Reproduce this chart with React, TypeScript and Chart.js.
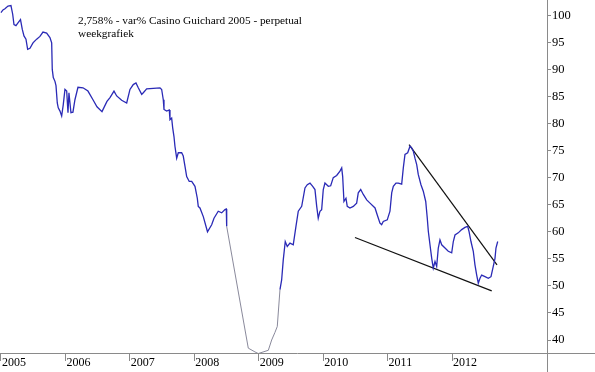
import React, { useEffect, useRef } from "react";
import { Chart, registerables } from "chart.js";

Chart.register(...registerables);

// Weekly closes (decimal year) and values (var% Casino Guichard 2005 perpetual)
const dates = [
  2005.0, 2005.031, 2005.062, 2005.109, 2005.155, 2005.182, 2005.202, 2005.233, 2005.264, 2005.303,
  2005.331, 2005.357, 2005.388, 2005.414, 2005.45, 2005.497, 2005.554, 2005.605, 2005.652, 2005.709,
  2005.76, 2005.787, 2005.796, 2005.812, 2005.838, 2005.854, 2005.874, 2005.889, 2005.916, 2005.942,
  2005.967, 2005.993, 2006.02, 2006.04, 2006.055, 2006.086, 2006.117, 2006.148, 2006.195, 2006.273,
  2006.35, 2006.428, 2006.49, 2006.568, 2006.645, 2006.692, 2006.754, 2006.796, 2006.873, 2006.951,
  2007.002, 2007.053, 2007.095, 2007.131, 2007.184, 2007.209, 2007.261, 2007.364, 2007.468, 2007.494,
  2007.519, 2007.53, 2007.572, 2007.612, 2007.623, 2007.649, 2007.665, 2007.685, 2007.7, 2007.727,
  2007.752, 2007.804, 2007.829, 2007.856, 2007.882, 2007.922, 2007.96, 2008.011, 2008.047, 2008.062,
  2008.088, 2008.14, 2008.205, 2008.27, 2008.306, 2008.372, 2008.425, 2008.476, 2008.497, 2008.503,
  2008.838, 2008.942, 2008.993, 2009.149, 2009.201, 2009.252, 2009.288, 2009.33, 2009.356, 2009.381,
  2009.412, 2009.443, 2009.485, 2009.536, 2009.578, 2009.614, 2009.667, 2009.718, 2009.754, 2009.796,
  2009.838, 2009.873, 2009.9, 2009.924, 2009.951, 2009.977, 2010.002, 2010.028, 2010.08, 2010.117,
  2010.157, 2010.21, 2010.261, 2010.288, 2010.303, 2010.323, 2010.354, 2010.374, 2010.416, 2010.468,
  2010.52, 2010.545, 2010.583, 2010.623, 2010.676, 2010.727, 2010.805, 2010.84, 2010.882, 2010.908,
  2010.933, 2010.995, 2011.037, 2011.064, 2011.089, 2011.13, 2011.166, 2011.219, 2011.244, 2011.27,
  2011.312, 2011.348, 2011.374, 2011.399, 2011.425, 2011.452, 2011.476, 2011.518, 2011.554, 2011.592,
  2011.616, 2011.632, 2011.658, 2011.685, 2011.709, 2011.736, 2011.762, 2011.787, 2011.813, 2011.84,
  2011.891, 2011.942, 2011.995, 2012.02, 2012.046, 2012.097, 2012.15, 2012.201, 2012.243, 2012.263,
  2012.294, 2012.33, 2012.356, 2012.383, 2012.408, 2012.434, 2012.46, 2012.512, 2012.563, 2012.605,
  2012.64, 2012.667, 2012.682, 2012.709,
];

const values = [
  100.5, 101.0, 101.2, 101.7, 101.8, 100.2, 98.3, 98.1, 98.6, 99.2,
  97.4, 96.2, 95.6, 93.7, 93.9, 94.9, 95.6, 96.1, 96.9, 96.7,
  95.9, 94.9, 90.0, 88.5, 87.8, 87.0, 83.8, 82.9, 82.3, 81.4,
  83.5, 86.3, 86.0, 82.0, 85.7, 82.0, 82.1, 84.4, 86.7, 86.6,
  86.0, 84.4, 83.1, 82.2, 84.1, 84.8, 86.0, 85.1, 84.3, 83.8,
  86.3, 87.2, 87.5, 86.6, 85.4, 85.7, 86.4, 86.5, 86.6, 86.3,
  84.4, 82.6, 82.3, 82.5, 80.7, 81.0, 79.2, 77.6, 75.8, 73.6,
  74.6, 74.6, 74.0, 72.1, 70.2, 69.3, 69.3, 68.4, 66.2, 64.7,
  64.4, 62.8, 60.0, 61.3, 62.5, 63.8, 63.5, 64.1, 64.2, 61.0,
  38.5, 37.8, 37.5, 38.1, 40.0, 41.4, 42.5, 49.3, 51.1, 54.8,
  58.2, 57.3, 57.9, 57.6, 61.0, 63.8, 64.7, 68.1, 68.7, 69.0,
  68.4, 67.8, 64.7, 62.5, 63.8, 64.1, 67.8, 69.0, 68.4, 68.5,
  70.0, 70.4, 71.2, 71.8, 70.2, 65.6, 66.2, 64.7, 64.4, 64.7,
  65.3, 67.2, 67.8, 66.9, 65.9, 65.3, 64.4, 63.1, 61.6, 61.3,
  61.9, 62.2, 63.8, 67.2, 68.4, 69.0, 69.0, 68.8, 71.8, 74.3,
  74.6, 75.8, 75.5, 74.9, 73.6, 72.4, 70.6, 68.7, 67.5, 65.6,
  62.5, 60.1, 57.6, 55.1, 53.3, 54.5, 53.6, 57.0, 58.5, 57.6,
  57.0, 56.4, 56.1, 58.2, 59.4, 59.8, 60.4, 60.8, 61.0, 60.1,
  58.2, 56.4, 53.9, 52.0, 50.5, 51.4, 52.0, 51.7, 51.4, 51.7,
  53.6, 55.1, 57.0, 58.2,
];

// Hand-drawn trend lines
const upperTrendX = [2011.333, 2012.698];
const upperTrendY = [76.1, 53.9];
const lowerTrendX = [2010.494, 2012.616];
const lowerTrendY = [58.94, 49.07];

// Thin (sparse data) stretch around the 2008/2009 crash
const thinFrom = 2008.5;
const thinTo = 2009.34;

const xTicks = [2005, 2006, 2007, 2008, 2009, 2010, 2011, 2012];
const yTicks = [40, 45, 50, 55, 60, 65, 70, 75, 80, 85, 90, 95, 100];

const titleLines = ["2,758% - var% Casino Guichard 2005 - perpetual", "weekgrafiek"];

const SERIF = '"Liberation Serif", "Times New Roman", serif';
const AXIS_GREY = "#8a8a8a";
const LINE_BLUE = "#2a2ab6";

export default function App() {
  const canvasRef = useRef<HTMLCanvasElement | null>(null);

  useEffect(() => {
    document.body.style.margin = "0";
    const canvas = canvasRef.current;
    if (!canvas) return;

    const overlay = {
      id: "overlay",
      afterDraw(chart: any) {
        const { ctx, chartArea } = chart;
        ctx.save();
        // extended axis lines
        ctx.strokeStyle = AXIS_GREY;
        ctx.lineWidth = 1;
        ctx.beginPath();
        ctx.moveTo(0, Math.round(chartArea.bottom) + 0.5);
        ctx.lineTo(chart.width, Math.round(chartArea.bottom) + 0.5);
        ctx.moveTo(Math.round(chartArea.right) + 0.5, 0);
        ctx.lineTo(Math.round(chartArea.right) + 0.5, chart.height);
        ctx.stroke();
        // title text
        ctx.fillStyle = "#000";
        ctx.font = `11.3px ${SERIF}`;
        ctx.textBaseline = "alphabetic";
        ctx.textAlign = "left";
        ctx.fillText(titleLines[0], 78, 24);
        ctx.fillText(titleLines[1], 78, 37);
        ctx.restore();
      },
    };

    const chart = new Chart(canvas, {
      type: "line",
      data: {
        datasets: [
          {
            data: dates.map((d, i) => ({ x: d, y: values[i] })),
            borderColor: LINE_BLUE,
            borderWidth: 1.3,
            pointRadius: 0,
            tension: 0,
            segment: {
              borderColor: (c: any) =>
                c.p0.parsed.x >= thinFrom && c.p1.parsed.x <= thinTo ? "#7c7c90" : LINE_BLUE,
              borderWidth: (c: any) =>
                c.p0.parsed.x >= thinFrom && c.p1.parsed.x <= thinTo ? 0.9 : 1.3,
            },
          },
          {
            data: upperTrendX.map((d, i) => ({ x: d, y: upperTrendY[i] })),
            borderColor: "#111",
            borderWidth: 1.2,
            pointRadius: 0,
          },
          {
            data: lowerTrendX.map((d, i) => ({ x: d, y: lowerTrendY[i] })),
            borderColor: "#111",
            borderWidth: 1.2,
            pointRadius: 0,
          },
        ],
      },
      options: {
        animation: false,
        responsive: false,
        maintainAspectRatio: false,
        layout: { padding: 0, autoPadding: false } as any,
        plugins: { legend: { display: false }, tooltip: { enabled: false }, title: { display: false } },
        scales: {
          x: {
            type: "linear",
            min: 2004.985,
            max: 2013.474,
            afterBuildTicks: (s: any) => {
              s.ticks = xTicks.map((v) => ({ value: v }));
            },
            afterFit: (s: any) => {
              s.height = 19;
              s.paddingLeft = 0;
              s.paddingRight = 0;
            },
            border: { display: false },
            grid: { drawOnChartArea: false, drawTicks: true, tickLength: 8, color: AXIS_GREY, lineWidth: 1 },
            ticks: {
              align: "start",
              labelOffset: 1,
              padding: -5,
              maxRotation: 0,
              autoSkip: false,
              color: "#000",
              font: { family: SERIF, size: 12 },
              callback: (v: any) => String(v),
            },
          },
          y: {
            type: "linear",
            position: "right",
            min: 37.6,
            max: 102.83,
            afterBuildTicks: (s: any) => {
              s.ticks = yTicks.map((v) => ({ value: v }));
            },
            afterFit: (s: any) => {
              s.width = 48;
              s.paddingTop = 0;
              s.paddingBottom = 0;
            },
            border: { display: false },
            grid: { drawOnChartArea: false, drawTicks: true, tickLength: 4, color: AXIS_GREY, lineWidth: 1 },
            ticks: {
              padding: 1,
              color: "#000",
              font: { family: SERIF, size: 12.5 },
              callback: (v: any) => String(v),
            },
          },
        },
      } as any,
      plugins: [overlay],
    });

    return () => chart.destroy();
  }, []);

  return (
    <div style={{ width: 595, height: 372, background: "#fff" }}>
      <canvas ref={canvasRef} width={595} height={372} style={{ display: "block", width: 595, height: 372 }} />
    </div>
  );
}
